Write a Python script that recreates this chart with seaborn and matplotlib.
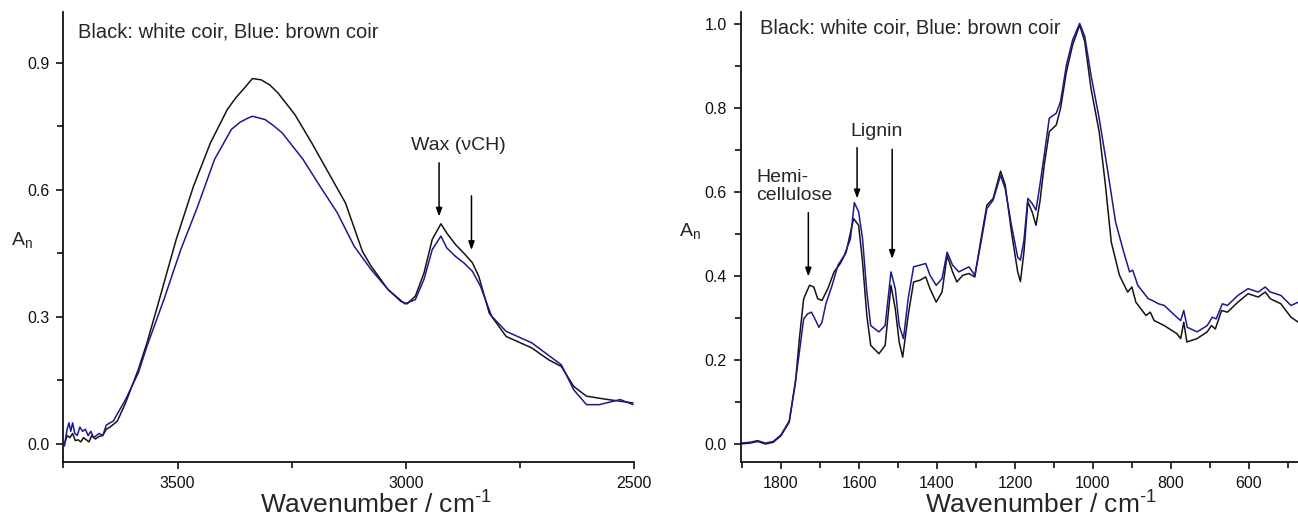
import matplotlib
matplotlib.use("Agg")
import matplotlib.pyplot as plt
from matplotlib.ticker import MultipleLocator
import seaborn as sns
import pandas as pd

# --- Dati (spettri FTIR normalizzati) ---
# Pannello sinistro: regione 3750-2500 cm-1
left_wn_black = [3748, 3742, 3736, 3730, 3724, 3718, 3712, 3706, 3700, 3694, 3688, 3680,
                 3672, 3664, 3656, 3648, 3632, 3614, 3586, 3567, 3540, 3503, 3465, 3428,
                 3391, 3372, 3354, 3336, 3317, 3298, 3280, 3243, 3206, 3169, 3132, 3095, 3076, 3039,
                 3011, 2997, 2979, 2960, 2942, 2923, 2910, 2891, 2873, 2854, 2840, 2817,
                 2780, 2724, 2687, 2659, 2632, 2604, 2557, 2502]
left_black = [0.000, 0.020, 0.015, 0.025, 0.008, 0.010, 0.005, 0.015, 0.010, 0.005, 0.020, 0.012,
              0.018, 0.020, 0.035, 0.040, 0.054, 0.097, 0.176, 0.239, 0.341, 0.483, 0.609, 0.711,
              0.790, 0.818, 0.840, 0.863, 0.860, 0.848, 0.829, 0.778, 0.711, 0.640, 0.569, 0.455, 0.420, 0.365,
              0.337, 0.331, 0.349, 0.404, 0.483, 0.520, 0.498, 0.471, 0.451, 0.428, 0.396, 0.309,
              0.254, 0.227, 0.199, 0.183, 0.136, 0.113, 0.105, 0.097]

left_wn_blue = [3748, 3742, 3738, 3734, 3730, 3725, 3720, 3714, 3708, 3702, 3696, 3690,
                3684, 3678, 3672, 3664, 3656, 3648, 3641, 3614, 3586, 3567, 3530, 3493,
                3456, 3419, 3382, 3363, 3345, 3336, 3308, 3290, 3271, 3225, 3188, 3150, 3113, 3076,
                3039, 3002, 2979, 2960, 2942, 2923, 2910, 2891, 2873, 2854, 2836, 2812,
                2780, 2724, 2659, 2632, 2604, 2576, 2530, 2502]
left_blue = [-0.005, 0.035, 0.050, 0.030, 0.050, 0.025, 0.020, 0.040, 0.030, 0.035, 0.020, 0.030,
             0.015, 0.020, 0.025, 0.020, 0.045, 0.050, 0.054, 0.105, 0.168, 0.231, 0.341, 0.459,
             0.561, 0.672, 0.743, 0.760, 0.770, 0.774, 0.766, 0.752, 0.735, 0.672, 0.609, 0.546, 0.467, 0.412,
             0.365, 0.331, 0.341, 0.389, 0.459, 0.491, 0.463, 0.443, 0.428, 0.408, 0.372, 0.302,
             0.266, 0.239, 0.187, 0.128, 0.093, 0.093, 0.105, 0.093]

# Pannello destro: regione 1900-475 cm-1
right_wn_black = [1905, 1880, 1860, 1840, 1820, 1800, 1779, 1763, 1753, 1742, 1727, 1716,
                  1706, 1695, 1680, 1664, 1648, 1633, 1614, 1601, 1591, 1580, 1570, 1549,
                  1533, 1518, 1507, 1497, 1488, 1474, 1460, 1444, 1429, 1418, 1402, 1387,
                  1374, 1360, 1349, 1334, 1318, 1303, 1287, 1272, 1256, 1237, 1225, 1209,
                  1193, 1186, 1177, 1167, 1156, 1146, 1136, 1125, 1112, 1094, 1083, 1068,
                  1052, 1034, 1021, 1005, 984, 968, 953, 932, 911, 900, 890, 864,
                  853, 843, 817, 785, 775, 767, 759, 733, 707, 696, 686, 670,
                  655, 628, 602, 576, 558, 545, 518, 492, 473]
right_black = [0.000, 0.002, 0.006, 0.000, 0.004, 0.020, 0.052, 0.147, 0.251, 0.346, 0.378, 0.374,
               0.346, 0.342, 0.370, 0.410, 0.430, 0.457, 0.537, 0.521, 0.434, 0.306, 0.235, 0.215,
               0.235, 0.378, 0.322, 0.243, 0.207, 0.306, 0.386, 0.390, 0.398, 0.370, 0.338, 0.362,
               0.449, 0.410, 0.386, 0.402, 0.406, 0.398, 0.489, 0.569, 0.585, 0.650, 0.617, 0.505,
               0.410, 0.387, 0.457, 0.577, 0.553, 0.521, 0.577, 0.664, 0.744, 0.760, 0.800, 0.887,
               0.951, 0.998, 0.959, 0.847, 0.744, 0.617, 0.481, 0.402, 0.362, 0.374, 0.338, 0.306,
               0.314, 0.294, 0.282, 0.263, 0.251, 0.290, 0.243, 0.251, 0.267, 0.282, 0.274, 0.318,
               0.314, 0.338, 0.358, 0.350, 0.362, 0.346, 0.334, 0.302, 0.290]

right_wn_blue = [1905, 1880, 1860, 1840, 1820, 1800, 1779, 1763, 1753, 1742, 1732, 1722,
                 1711, 1703, 1695, 1685, 1669, 1654, 1638, 1622, 1612, 1601, 1591, 1580,
                 1570, 1549, 1533, 1518, 1507, 1497, 1486, 1474, 1460, 1444, 1429, 1418,
                 1402, 1387, 1374, 1360, 1344, 1318, 1303, 1287, 1272, 1256, 1237, 1225,
                 1209, 1193, 1186, 1177, 1167, 1156, 1146, 1136, 1125, 1112, 1094, 1083,
                 1068, 1052, 1034, 1021, 1005, 984, 963, 942, 921, 906, 898, 885,
                 858, 848, 832, 817, 785, 775, 767, 758, 733, 707, 694, 684,
                 668, 655, 628, 602, 576, 558, 545, 518, 492, 473]
right_blue = [0.002, 0.004, 0.008, 0.002, 0.006, 0.022, 0.055, 0.150, 0.219, 0.298, 0.310, 0.314,
              0.294, 0.278, 0.290, 0.334, 0.378, 0.426, 0.449, 0.489, 0.575, 0.553, 0.489, 0.362,
              0.282, 0.267, 0.282, 0.410, 0.370, 0.282, 0.251, 0.346, 0.422, 0.426, 0.430, 0.402,
              0.378, 0.394, 0.457, 0.426, 0.410, 0.422, 0.402, 0.481, 0.561, 0.581, 0.640, 0.608,
              0.521, 0.445, 0.438, 0.485, 0.585, 0.573, 0.557, 0.617, 0.688, 0.776, 0.788, 0.816,
              0.903, 0.963, 1.002, 0.971, 0.879, 0.776, 0.656, 0.529, 0.457, 0.410, 0.414, 0.378,
              0.346, 0.342, 0.334, 0.330, 0.302, 0.294, 0.318, 0.278, 0.267, 0.282, 0.302, 0.298,
              0.334, 0.330, 0.354, 0.370, 0.362, 0.374, 0.362, 0.354, 0.330, 0.338]

samples = ["white coir", "brown coir"]
colors = {"white coir": "#141414", "brown coir": "#1a1a8e"}


def make_df(wn_black, a_black, wn_blue, a_blue):
    d1 = pd.DataFrame({"wn": wn_black, "A": a_black, "sample": samples[0]})
    d2 = pd.DataFrame({"wn": wn_blue, "A": a_blue, "sample": samples[1]})
    return pd.concat([d1, d2], ignore_index=True)


df_left = make_df(left_wn_black, left_black, left_wn_blue, left_blue)
df_right = make_df(right_wn_black, right_black, right_wn_blue, right_blue)

sns.set_style("ticks")
plt.rcParams["font.family"] = ["Liberation Sans", "DejaVu Sans"]
plt.rcParams["mathtext.fontset"] = "custom"
plt.rcParams["mathtext.rm"] = "Liberation Sans"
plt.rcParams["axes.unicode_minus"] = False

fig = plt.figure(figsize=(12.98, 5.22), dpi=100)
ax1 = fig.add_axes([0.0489, 0.1149, 0.4395, 0.862])
ax2 = fig.add_axes([0.5705, 0.1149, 0.4295, 0.862])

for ax, df in [(ax1, df_left), (ax2, df_right)]:
    sns.lineplot(data=df, x="wn", y="A", hue="sample", palette=colors,
                 estimator=None, sort=False, linewidth=1.1, legend=False, ax=ax)
    ax.spines["top"].set_visible(False)
    ax.spines["right"].set_visible(False)
    for s in ["left", "bottom"]:
        ax.spines[s].set_linewidth(1.3)
        ax.spines[s].set_color("#111111")
    ax.tick_params(which="major", direction="out", length=5, width=1.2, labelsize=11.5,
                   colors="#111111", pad=5)
    ax.tick_params(which="minor", direction="out", length=4, width=1.2, colors="#111111")
    ax.set_xlabel("Wavenumber / cm$^{\\mathregular{\u2010 1}}$", fontsize=19)
    ax.set_ylabel("A$_{\\mathregular{n}}$", fontsize=14, rotation=0)

# pannello sinistro
ax1.set_xlim(3750, 2500)
ax1.set_ylim(-0.0425, 1.02)
ax1.set_xticks([3500, 3000, 2500])
ax1.xaxis.set_minor_locator(MultipleLocator(250))
ax1.set_yticks([0.0, 0.3, 0.6, 0.9])
ax1.set_yticklabels(["0.0", "0.3", "0.6", "0.9"])
ax1.yaxis.set_minor_locator(MultipleLocator(0.15))
ax1.xaxis.set_label_coords(0.548, -0.062)
ax1.yaxis.set_label_coords(-0.073, 0.47)
ax1.text(0.025, 0.944, "Black: white coir, Blue: brown coir", transform=ax1.transAxes,
         fontsize=14.5, va="baseline", ha="left")
ax1.text(2885, 0.694, "Wax (\u03bdCH)", fontsize=14, ha="center", va="baseline")
arr = dict(arrowstyle="-|>,head_length=0.5,head_width=0.18", color="black", lw=1.1,
           shrinkA=0, shrinkB=0)
ax1.annotate("", xy=(2927, 0.537), xytext=(2927, 0.664), arrowprops=arr)
ax1.annotate("", xy=(2856, 0.458), xytext=(2856, 0.586), arrowprops=arr)

# pannello destro
ax2.set_xlim(1904, 474)
ax2.set_ylim(-0.043, 1.029)
ax2.xaxis.set_major_locator(MultipleLocator(200))
ax2.xaxis.set_minor_locator(MultipleLocator(100))
ax2.set_yticks([0.0, 0.2, 0.4, 0.6, 0.8, 1.0])
ax2.yaxis.set_minor_locator(MultipleLocator(0.1))
ax2.xaxis.set_label_coords(0.539, -0.062)
ax2.yaxis.set_label_coords(-0.09, 0.49)
ax2.text(0.035, 0.953, "Black: white coir, Blue: brown coir", transform=ax2.transAxes,
         fontsize=14.5, va="baseline", ha="left")
ax2.text(1554, 0.733, "Lignin", fontsize=14, ha="center", va="baseline")
ax2.text(1863, 0.582, "Hemi-\ncellulose", fontsize=14, ha="left", va="baseline",
         linespacing=1.05)
ax2.annotate("", xy=(1730, 0.399), xytext=(1730, 0.551), arrowprops=arr)
ax2.annotate("", xy=(1605, 0.585), xytext=(1605, 0.706), arrowprops=arr)
ax2.annotate("", xy=(1515, 0.441), xytext=(1515, 0.702), arrowprops=arr)

fig.savefig("out.png", dpi=100)
plt.close(fig)
